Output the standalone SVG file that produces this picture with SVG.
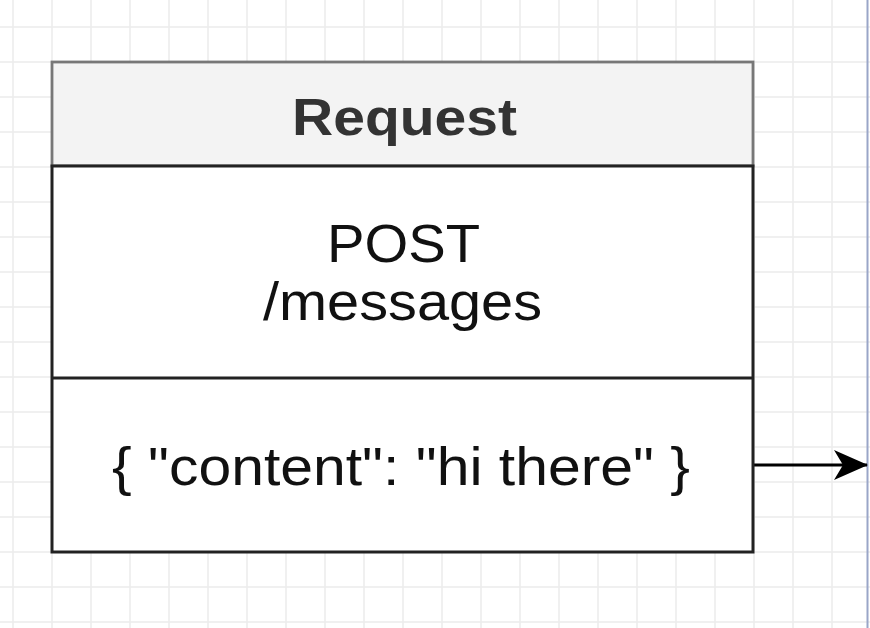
<svg xmlns="http://www.w3.org/2000/svg" width="870" height="628" viewBox="0 0 870 628">
<style>
.t{font-family:"Liberation Sans",Arial,Helvetica,sans-serif;text-anchor:middle}
.body{font-size:53px;fill:#111}
.hdr{font-size:52px;font-weight:bold;fill:#333}
.g{stroke:#ececec;stroke-width:1.5;fill:none}
</style>
<defs>
<marker id="arr" viewBox="0 0 34 30" refX="33" refY="15" markerWidth="34" markerHeight="30" markerUnits="userSpaceOnUse" orient="auto">
<path d="M0 0L34 15L0 30L9 15Z" fill="#000"/>
</marker>
</defs>
<rect width="870" height="628" fill="#fff"/>
<path class="g" d="M13 0V628M52 0V628M91 0V628M130 0V628M169 0V628M208 0V628M247 0V628M286 0V628M325 0V628M364 0V628M403 0V628M442 0V628M481 0V628M520 0V628M559 0V628M598 0V628M637 0V628M676 0V628M715 0V628M754 0V628M793 0V628M832 0V628
M0 27H870M0 62H870M0 97H870M0 132H870M0 167H870M0 202H870M0 237H870M0 272H870M0 307H870M0 342H870M0 377H870M0 412H870M0 447H870M0 482H870M0 517H870M0 552H870M0 587H870M0 622H870"/>
<line x1="867.5" y1="0" x2="867.5" y2="628" stroke="#9aa6c8" stroke-width="2"/>
<g id="connectors">
<line x1="753" y1="465" x2="867" y2="465" stroke="#000" stroke-width="2.8" marker-end="url(#arr)"/>
</g>
<g id="request">
<rect x="52" y="62" width="701" height="104" fill="#f3f3f3" stroke="#777" stroke-width="2.8"/>
<rect x="52" y="166" width="701" height="386" fill="#fff" stroke="#222" stroke-width="3"/>
<line x1="52" y1="378" x2="753" y2="378" stroke="#222" stroke-width="3"/>
<text class="t hdr" x="404.5" y="135" textLength="225" lengthAdjust="spacingAndGlyphs">Request</text>
<text class="t body" x="403.5" y="262" textLength="153" lengthAdjust="spacingAndGlyphs">POST</text>
<text class="t body" x="402.5" y="320" textLength="279" lengthAdjust="spacingAndGlyphs">/messages</text>
<text class="t body" x="401" y="485" textLength="578" lengthAdjust="spacingAndGlyphs">{ "content": "hi there" }</text>
</g>
</svg>
